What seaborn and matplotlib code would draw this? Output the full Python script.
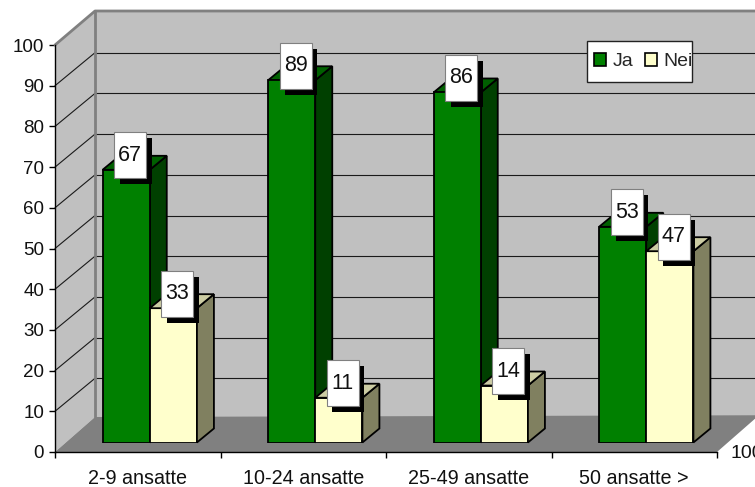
import matplotlib
matplotlib.use("Agg")
import matplotlib.pyplot as plt
from matplotlib.patches import Polygon, Rectangle
import pandas as pd
import seaborn as sns

categories = ["2-9 ansatte", "10-24 ansatte", "25-49 ansatte", "50 ansatte >"]
ja_values = [67, 89, 86, 53]
nei_values = [33, 11, 14, 47]
series_names = ["Ja", "Nei"]
y_ticks = list(range(0, 101, 10))

sns.set_style("white")
plt.rcParams["font.family"] = ["Liberation Sans", "DejaVu Sans"]

W, H = 755, 487
X0, X1, Y0, Y100 = 55, 717, 452, 45
PX_X = (X1 - X0) / 4
PX_Y = (Y0 - Y100) / 100

df = pd.DataFrame({
    "group": categories * 2,
    "serie": [series_names[0]] * 4 + [series_names[1]] * 4,
    "value": ja_values + nei_values,
})

fig = plt.figure(figsize=(W / 100, H / 100), dpi=100, facecolor="white")


def make_axes(dx=0, dy=0):
    return fig.add_axes([(X0 + dx) / W, (H - Y0 + dy) / H, (X1 - X0) / W, (Y0 - Y100) / H])


ax = make_axes()
ax.set_xlim(-0.5, 3.5)
ax.set_ylim(0, 100)
ax.patch.set_alpha(0)

# walls and floor (depth in data units)
DX, DY_FLOOR, DY_GRID, DY_TOP = 40 / PX_X, 35 / PX_Y, 33 / PX_Y, 34 / PX_Y
left = -0.5
ax.add_patch(Polygon([(left + DX, DY_FLOOR), (4, DY_FLOOR), (4, 100 + DY_TOP), (left + DX, 100 + DY_TOP)],
                     fc="#C0C0C0", ec="none", clip_on=False, zorder=0))
ax.add_patch(Polygon([(left, 0), (left + DX, DY_FLOOR), (left + DX, 100 + DY_TOP), (left, 100)],
                     fc="#C0C0C0", ec="none", clip_on=False, zorder=0))
ax.add_patch(Polygon([(left, 0), (3.5, 0), (3.5 + DX * 1.05, DY_FLOOR * 1.05), (left + DX, DY_FLOOR)],
                     fc="#808080", ec="none", clip_on=False, zorder=0.5))
ax.plot([left, left + DX, 4], [100, 100 + DY_TOP, 100 + DY_TOP], color="#808080", lw=2, clip_on=False, zorder=1)
ax.plot([left + DX, left + DX], [DY_FLOOR, 100 + DY_TOP], color="#808080", lw=2, clip_on=False, zorder=0.8)
for t in y_ticks[1:-1]:
    ax.plot([left + DX, 4], [t + DY_GRID, t + DY_GRID], color="#1a1a1a", lw=0.8, clip_on=False, zorder=0.6)
    ax.plot([left, left + DX], [t, t + DY_GRID], color="#1a1a1a", lw=0.8, clip_on=False, zorder=0.6)

for s in ["top", "right"]:
    ax.spines[s].set_visible(False)
for s in ["left", "bottom"]:
    ax.spines[s].set_color("black")
    ax.spines[s].set_linewidth(1)
    ax.spines[s].set_zorder(3)
ax.set_yticks(y_ticks)
ax.set_xticks(range(4), categories)
ax.set_xticks([-0.5, 0.5, 1.5, 2.5, 3.5], minor=True)
ax.tick_params(axis="y", left=True, length=4.3, width=1, labelsize=13.5, pad=3.6, color="black", labelcolor="#111111")
ax.tick_params(axis="x", which="major", bottom=False, labelsize=14.2, pad=9, labelcolor="#111111")
ax.tick_params(axis="x", which="minor", bottom=True, length=4.3, width=1, color="black")
ax.set_xlabel("")
ax.set_ylabel("")

# bars on a plane set back from the front of the floor
bx = make_axes(12, 9.5)
sns.barplot(data=df, x="group", y="value", hue="serie", order=categories, hue_order=series_names,
            palette=["#008000", "#FFFFCC"], saturation=1, width=0.57, gap=0,
            edgecolor="black", linewidth=1.3, ax=bx, zorder=2, legend=True)
bx.set_xlim(-0.5, 3.5)
bx.set_ylim(0, 100)
bx.patch.set_alpha(0)

handles, labels = bx.get_legend_handles_labels()
bx.get_legend().remove()
fig.add_artist(Rectangle((587 / W, 1 - 82 / H), 105 / W, 41 / H, transform=fig.transFigure,
                         fc="white", ec="#222222", lw=1, zorder=9))
leg = fig.legend(handles, labels, ncol=2, loc="upper left", bbox_to_anchor=(594 / W, 1 - 53 / H),
                 borderaxespad=0, fontsize=14, handlelength=0.62, handleheight=0.62,
                 handletextpad=0.36, columnspacing=0.55, borderpad=0, labelspacing=0,
                 frameon=False)
leg.set_zorder(10)
for h in leg.legend_handles:
    h.set_edgecolor("black")
    h.set_linewidth(1.2)

bdx, bdy = 17 / PX_X, 14 / PX_Y
styles = {0: ("#004000", "#006000"), 1: ("#808060", "#CCCCA3")}
bars = [p for p in bx.patches if p.get_height() > 0]
bars.sort(key=lambda p: p.get_x())
for p in bars:
    x, w, h = p.get_x(), p.get_width(), p.get_height()
    is_nei = p.get_facecolor()[2] > 0.5
    side, top = styles[1 if is_nei else 0]
    z = 2.5 if is_nei else 1.5
    bx.add_patch(Polygon([(x + w, 0), (x + w + bdx, bdy), (x + w + bdx, h + bdy), (x + w, h)],
                         fc=side, ec="black", lw=1.3, zorder=z, clip_on=False))
    bx.add_patch(Polygon([(x, h), (x + bdx, h + bdy), (x + w + bdx, h + bdy), (x + w, h)],
                         fc=top, ec="black", lw=1.3, zorder=z, clip_on=False))

# value labels: white card with a black drop shadow
bw, bh = 32 / PX_X, 46 / PX_Y
sx, sy = 5.5 / PX_X, 6 / PX_Y
for p in bars:
    cx = p.get_x() + p.get_width() / 2 + 4 / PX_X
    cy = p.get_height() + 14.5 / PX_Y
    bx.add_patch(Rectangle((cx - bw / 2 + sx, cy - bh / 2 - sy), bw, bh, fc="black", ec="none", zorder=5, clip_on=False))
    bx.add_patch(Rectangle((cx - bw / 2, cy - bh / 2), bw, bh, fc="white", ec="#808080", lw=0.8, zorder=6, clip_on=False))
    bx.text(cx, cy, f"{int(p.get_height())}", ha="center", va="center", fontsize=15.5, color="#111111", zorder=7, clip_on=False)
bx.axis("off")

# clipped depth-axis label at the right edge
ax.text(3.5 + 13 / PX_X, -0.4, "100", fontsize=14, ha="left", va="center", clip_on=False, color="#111111")

fig.savefig("out.png", dpi=100)
